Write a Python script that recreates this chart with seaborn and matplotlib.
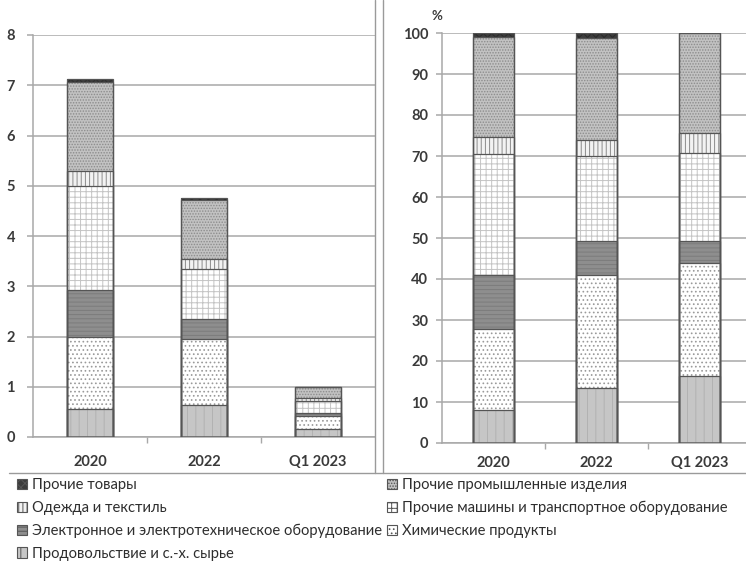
import numpy as np
import pandas as pd
import seaborn as sns
import matplotlib
matplotlib.use("Agg")
import matplotlib.pyplot as plt
from matplotlib.patches import Patch
from matplotlib.lines import Line2D

# Periods on the x axis
periods = ["2020", "2022", "Q1 2023"]

# Exports by commodity group (left panel, absolute values), bottom to top
food = [0.56, 0.63, 0.16]
chemicals = [1.43, 1.32, 0.25]
electronics = [0.93, 0.40, 0.07]
machinery = [2.08, 1.00, 0.24]
clothing = [0.30, 0.19, 0.055]
other_industrial = [1.76, 1.18, 0.225]
other_goods = [0.07, 0.04, 0.0]

# Shares of each commodity group, % (right panel)
food_pct = [8.1, 13.4, 16.4]
chemicals_pct = [19.7, 27.5, 27.4]
electronics_pct = [13.2, 8.4, 5.4]
machinery_pct = [29.4, 20.7, 21.5]
clothing_pct = [4.2, 3.9, 5.0]
other_industrial_pct = [24.4, 24.8, 24.3]
other_goods_pct = [1.0, 1.3, 0.0]

labels = [
    "Продовольствие и с.-х. сырье",
    "Химические продукты",
    "Электронное и электротехническое оборудование",
    "Прочие машины и транспортное оборудование",
    "Одежда и текстиль",
    "Прочие промышленные изделия",
    "Прочие товары",
]

# face colour, hatch, hatch colour per group (same order as labels)
styles = [
    ("#c6c6c6", "||", "#b2b2b2"),
    ("#ffffff", "....", "#9a9a9a"),
    ("#8e8e8e", "----", "#7c7c7c"),
    ("#ffffff", "+++", "#c4c4c4"),
    ("#f2f2f2", "||||", "#8a8a8a"),
    ("#c2c2c2", "......", "#8c8c8c"),
    ("#3c3c3c", "xxxx", "#2a2a2a"),
]

sns.set_theme(style="white")
plt.rcParams["font.family"] = ["Lato", "DejaVu Sans"]
plt.rcParams["hatch.linewidth"] = 0.7

W, H = 746, 564
fig = plt.figure(figsize=(W / 100, H / 100), dpi=100)


def px_axes(left, top, right, bottom):
    return fig.add_axes([left / W, 1 - bottom / H, (right - left) / W, (bottom - top) / H])


grid_c = "#a8a8a8"
edge_c = "#555555"
text_c = "#3a3a3a"


def stacked(ax, series):
    cum = np.cumsum(np.array(series, dtype=float), axis=0)
    for i in range(len(series) - 1, -1, -1):
        face, hatch, hc = styles[i]
        df = pd.DataFrame({"period": periods, "value": cum[i]})
        sns.barplot(data=df, x="period", y="value", ax=ax, color=face, saturation=1,
                    width=0.4, hatch=hatch, edgecolor=hc, linewidth=0, zorder=2)
        sns.barplot(data=df, x="period", y="value", ax=ax, color=edge_c, saturation=1,
                    width=0.4, fill=False, linewidth=0.9, zorder=3)


def style_axes(ax, ymax, step, xlim, xpad):
    ax.set_ylim(0, ymax)
    ax.set_xlim(*xlim)
    ax.set_yticks(np.arange(0, ymax + 0.001, step))
    ax.set_xlabel("")
    ax.set_ylabel("")
    ax.yaxis.grid(True, color=grid_c, linewidth=1.1, zorder=0)
    ax.set_axisbelow(True)
    for s in ["top", "right"]:
        ax.spines[s].set_visible(False)
    for s in ["left", "bottom"]:
        ax.spines[s].set_color(grid_c)
        ax.spines[s].set_linewidth(1.1)
    ax.set_xticks([0.5, 1.5], minor=True)
    ax.tick_params(axis="x", which="minor", length=4, color=grid_c, width=1, direction="out", bottom=True)
    ax.tick_params(axis="x", which="major", length=0, pad=xpad, labelsize=10.5, labelcolor=text_c)
    ax.tick_params(axis="y", which="major", length=4, color=grid_c, width=1.1, direction="out",
                   left=True, pad=9, labelsize=10.5, labelcolor=text_c)
    for t in ax.get_xticklabels() + ax.get_yticklabels():
        t.set_fontweight("bold")


# Left panel: absolute values
ax1 = px_axes(33, 35, 375, 437)
stacked(ax1, [food, chemicals, electronics, machinery, clothing, other_industrial, other_goods])
style_axes(ax1, 8, 1, (-0.5, 2.5), 13)

# Right panel: shares
ax2 = px_axes(442, 33, 746, 443)
stacked(ax2, [food_pct, chemicals_pct, electronics_pct, machinery_pct, clothing_pct,
              other_industrial_pct, other_goods_pct])
style_axes(ax2, 100, 10, (-0.5, 2.45), 9.5)
ax2.tick_params(axis="y", pad=6)
fig.text(437 / W, 1 - 16 / H, "%", ha="center", va="center", fontsize=9.5,
         fontweight="bold", color=text_c)

# Double separator between panels and rule above the legend
for x in (375, 383):
    fig.add_artist(Line2D([x / W, x / W], [1, 1 - 473 / H], color="#9a9a9a", linewidth=1.0))
fig.add_artist(Line2D([9 / W, 1], [1 - 473 / H, 1 - 473 / H], color="#9a9a9a", linewidth=1.0))

# Legend: two columns
order = [6, 4, 2, 0, 5, 3, 1]
handles = []
for i in order:
    face, hatch, hc = styles[i]
    handles.append(Patch(facecolor=face, hatch=hatch, edgecolor=edge_c, linewidth=0.8, label=labels[i]))
leg = fig.legend(handles=handles, ncol=2, loc="upper left", bbox_to_anchor=(17 / W, 1 - 478 / H),
                 frameon=False, fontsize=10.6, handlelength=0.7, handleheight=0.7,
                 handletextpad=0.3, columnspacing=0.35, labelspacing=0.6, borderaxespad=0,
                 borderpad=0)
for t in leg.get_texts():
    t.set_color("#2e2e2e")

fig.savefig("out.png", dpi=100)
